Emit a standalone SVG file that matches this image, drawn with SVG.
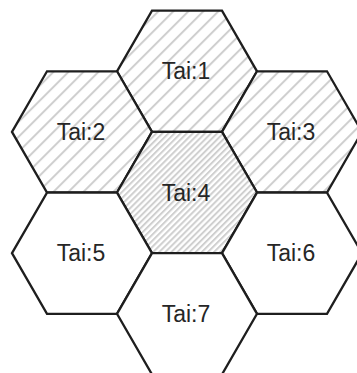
<svg xmlns="http://www.w3.org/2000/svg" width="357" height="373" viewBox="0 0 357 373">
<style>
.hex{stroke:#1e1e1e;stroke-width:2.3;stroke-linejoin:miter}
.w{fill:#fff}
.h1{fill:url(#hatchWide)}
.h2{fill:url(#hatchDense)}
.lbl{font-family:"Liberation Sans",Arial,sans-serif;font-size:23px;fill:#262626;text-anchor:middle}
</style>
<defs>
<pattern id="hatchWide" patternUnits="userSpaceOnUse" width="10.6" height="10" patternTransform="rotate(45)">
<rect width="10.6" height="10" fill="#fff"/>
<line x1="1" y1="0" x2="1" y2="10" stroke="#cfcfcf" stroke-width="2"/>
</pattern>
<pattern id="hatchDense" patternUnits="userSpaceOnUse" width="4.3" height="10" patternTransform="rotate(45)">
<rect width="4.3" height="10" fill="#fff"/>
<line x1="1" y1="0" x2="1" y2="10" stroke="#cfcfcf" stroke-width="2"/>
</pattern>
<polygon id="hx" points="-70,0 -35,-60.62 35,-60.62 70,0 35,60.62 -35,60.62"/>
</defs>
<rect width="357" height="373" fill="#fff"/>
<g id="node1"><use href="#hx" class="hex h1" x="187" y="71.3"/><text class="lbl" x="186" y="79">Tai:1</text></g>
<g id="node2"><use href="#hx" class="hex h1" x="82" y="131.9"/><text class="lbl" x="81" y="140">Tai:2</text></g>
<g id="node3"><use href="#hx" class="hex h1" x="292" y="131.9"/><text class="lbl" x="291" y="140">Tai:3</text></g>
<g id="node4"><use href="#hx" class="hex h2" x="187" y="192.5"/><text class="lbl" x="186" y="201">Tai:4</text></g>
<g id="node5"><use href="#hx" class="hex w" x="82" y="253.2"/><text class="lbl" x="81" y="261">Tai:5</text></g>
<g id="node6"><use href="#hx" class="hex w" x="292" y="253.2"/><text class="lbl" x="291" y="261">Tai:6</text></g>
<g id="node7"><use href="#hx" class="hex w" x="187" y="313.8"/><text class="lbl" x="186" y="322">Tai:7</text></g>
<g id="connectors"></g>
</svg>
